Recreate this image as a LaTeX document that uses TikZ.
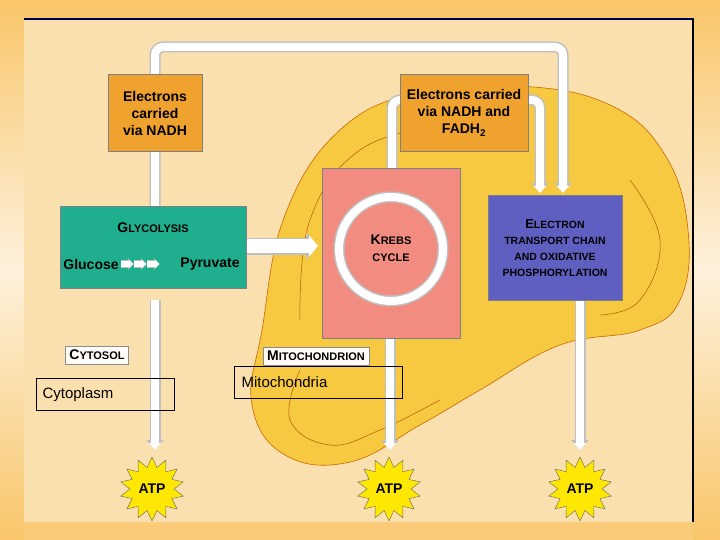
\documentclass[tikz,border=0pt]{standalone}
\usepackage{fontspec}
\setmainfont{Liberation Sans}
\usetikzlibrary{shapes.geometric,arrows.meta}
\definecolor{bgo}{HTML}{F9C66A}
\definecolor{bgl}{HTML}{FDF1DC}
\definecolor{panel}{HTML}{FAE0AE}
\definecolor{mito}{HTML}{F6C940}
\definecolor{orbox}{HTML}{F0A22E}
\definecolor{teal}{HTML}{1FAE8E}
\definecolor{pink}{HTML}{F28C80}
\definecolor{etc}{HTML}{5F5FC2}
\begin{document}
\begin{tikzpicture}[x=1pt,y=-1pt,
  box/.style={draw=black!50,line width=0.6pt,inner sep=0pt,font=\bfseries},
  big/.style={font=\fontsize{14}{17}\selectfont\bfseries},
  lbl/.style={draw=black!45,fill=white!90!panel,inner sep=4pt,font=\fontsize{11}{13}\selectfont\bfseries},
  tag/.style={draw=black,line width=0.7pt,inner sep=0pt,anchor=north west},
  atp/.style={star,star points=14,star point ratio=1.45,minimum size=64pt,fill=yellow!90!orange,draw=black!60,inner sep=0pt,font=\fontsize{14}{16}\selectfont\bfseries},
  pipeo/.style={draw=black!25,line width=11pt},
  pipei/.style={draw=white,line width=8pt},
  tipo/.style={-{Triangle[length=10pt,width=17pt]}},
  tipi/.style={-{Triangle[length=7pt,width=12pt]}}]
\useasboundingbox (0,0) rectangle (720,540);
\shade[top color=bgo,bottom color=bgl] (0,0) rectangle (720,270);
\shade[top color=bgl,bottom color=bgo] (0,270) rectangle (720,540);
\fill[panel] (24,20) rectangle (693,522);
\draw[line width=2.5pt,color=blue!30!black] (24,19) -- (694,19);
\draw[line width=2.5pt,black] (693,19) -- (693,522);
% mitochondrion
\fill[mito,draw=orange!80!black,line width=0.6pt] plot[smooth cycle,tension=0.7] coordinates {
 (262,330) (285,215) (340,130) (420,92) (520,86) (610,105) (665,155) (688,230)
 (680,300) (640,330) (560,345) (480,390) (420,425) (350,462) (285,455) (252,405)};
\draw[orange!70!black,line width=0.5pt] plot[smooth,tension=0.7] coordinates {
 (300,320) (310,220) (360,150) (440,125)};
\draw[orange!70!black,line width=0.5pt] plot[smooth,tension=0.7] coordinates {
 (300,370) (290,420) (330,445) (380,430) (440,400)};
\draw[orange!70!black,line width=0.5pt] plot[smooth,tension=0.7] coordinates {
 (630,180) (660,240) (640,300) (600,315)};
% pipes
\coordinate (tl) at (155,47);
\coordinate (tr) at (563,47);
\coordinate (kt) at (392,100);
\coordinate (kr) at (540,100);
\coordinate (e1) at (563,193);
\coordinate (e2) at (540,193);
\coordinate (a1) at (155,450);
\coordinate (a2) at (390,450);
\coordinate (a3) at (580,450);
\coordinate (g0) at (155,210);
\coordinate (g1) at (246,246);
\coordinate (g2) at (318,246);
\foreach \s/\t in {pipeo/tipo,pipei/tipi}{
 \draw[\s,\t,rounded corners=8pt] (g0) -- (tl) -- (tr) -- (e1);
 \draw[\s,\t,rounded corners=8pt] (392,170) -- (kt) -- (kr) -- (e2);
 \draw[\s,\t] (155,300) -- (a1);
 \draw[\s,\t] (390,338) -- (a2);
 \draw[\s,\t] (580,300) -- (a3);
}
\draw[draw=black!25,line width=17pt,-{Triangle[length=12pt,width=26pt]}] (g1) -- (g2);
\draw[draw=white,line width=14pt,-{Triangle[length=9pt,width=21pt]}] (g1) -- (g2);
% boxes
\node[box,fill=orbox,minimum width=94pt,minimum height=77pt,align=center,big] (n1) at (155,113) {Electrons\\carried\\via NADH};
\node[box,fill=orbox,minimum width=128pt,minimum height=77pt,align=center,big] (n2) at (464,113) {Electrons carried\\via NADH and\\FADH$_{\mathbf 2}$};
\node[box,fill=teal,minimum width=186pt,minimum height=82pt] (gly) at (153,247) {};
\node[big] (glyt) at (153,228) {G\fontsize{11}{13}\selectfont LYCOLYSIS};
\node[big] (glu) at (91,264) {Glucose};
\node[big] (pyr) at (210,264) {Pyruvate};
\foreach \xx in {121,134,147}{
 \draw[draw=black!25,line width=8pt,-{Triangle[length=6pt,width=11pt]}] (\xx,264) -- (\xx+13,264);
 \draw[draw=white,line width=5.5pt,-{Triangle[length=4pt,width=8pt]}] (\xx,264) -- (\xx+12,264);
}
\node[box,fill=pink,minimum width=138pt,minimum height=170pt] (kb) at (391,253) {};
\draw[black!25,line width=11pt] (391,249) circle (52);
\draw[white,line width=8pt] (391,249) circle (52);
\node[align=center,big] (kt2) at (391,248) {K\fontsize{11}{13}\selectfont REBS\\\fontsize{11}{13}\selectfont CYCLE};
\node[box,fill=etc,minimum width=134pt,minimum height=105pt,align=center,font=\fontsize{10.5}{12}\selectfont\bfseries] (et) at (555,248) {{\fontsize{13}{14}\selectfont E}LECTRON\\[4pt]TRANSPORT CHAIN\\[4pt]AND OXIDATIVE\\[4pt]PHOSPHORYLATION};
\node[lbl] (cy) at (97,355) {{\fontsize{14}{14}\selectfont C}YTOSOL};
\node[lbl] (mi) at (316,356) {{\fontsize{14}{14}\selectfont M}ITOCHONDRION};
\node[tag,minimum width=138pt,minimum height=32pt] (cp) at (36,378) {};
\node[anchor=west,font=\fontsize{15}{17}\selectfont] (cpt) at (39,395) {Cytoplasm};
\node[tag,minimum width=168pt,minimum height=32pt] (mc) at (234,366) {};
\node[anchor=west,font=\fontsize{15}{17}\selectfont] (mct) at (238,382) {Mitochondria};
\node[atp] (p1) at (152,489) {ATP};
\node[atp] (p2) at (389,489) {ATP};
\node[atp] (p3) at (580,489) {ATP};
\fill[bgo!90!white] (24,522) rectangle (693,540);
\end{tikzpicture}
\end{document}
